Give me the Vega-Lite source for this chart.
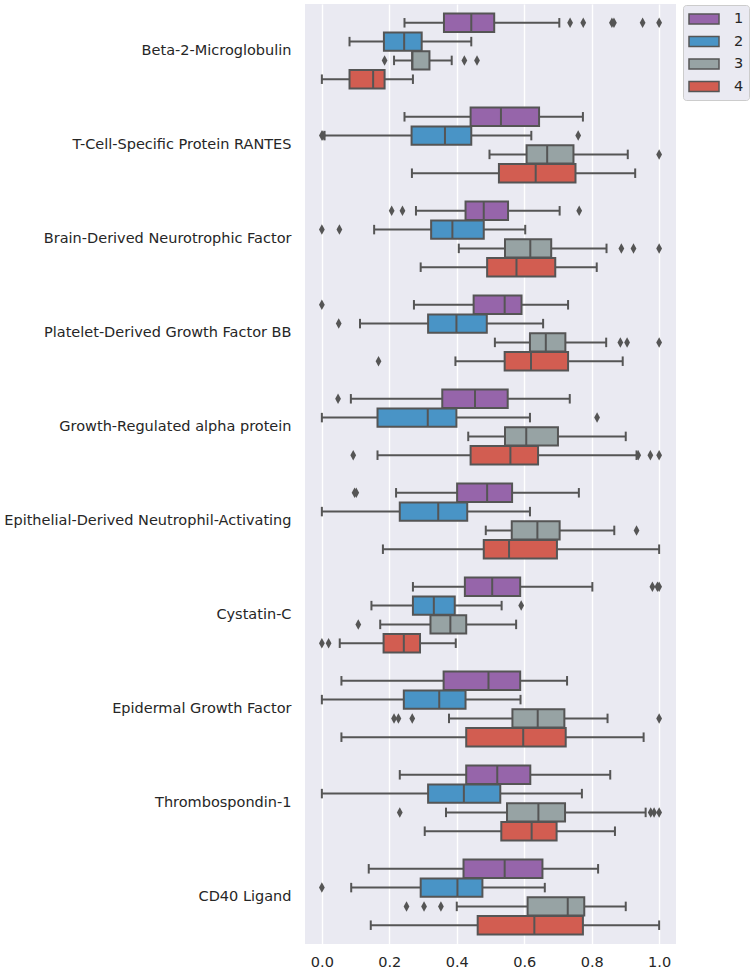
{
  "$schema": "https://vega.github.io/schema/vega-lite/v6.json",
  "width": 371,
  "height": 940,
  "autosize": "none",
  "padding": {"left": 305, "top": 4, "right": 74, "bottom": 28},
  "background": "white",
  "datasets": {
    "boxes": [
      {"protein": "Beta-2-Microglobulin", "group": "1", "lo": 0.245, "q1": 0.362, "med": 0.443, "q3": 0.511, "hi": 0.704},
      {"protein": "Beta-2-Microglobulin", "group": "2", "lo": 0.082, "q1": 0.184, "med": 0.244, "q3": 0.296, "hi": 0.443},
      {"protein": "Beta-2-Microglobulin", "group": "3", "lo": 0.214, "q1": 0.268, "med": 0.268, "q3": 0.319, "hi": 0.385},
      {"protein": "Beta-2-Microglobulin", "group": "4", "lo": 0.0, "q1": 0.082, "med": 0.152, "q3": 0.186, "hi": 0.27},
      {"protein": "T-Cell-Specific Protein RANTES", "group": "1", "lo": 0.245, "q1": 0.441, "med": 0.531, "q3": 0.644, "hi": 0.774},
      {"protein": "T-Cell-Specific Protein RANTES", "group": "2", "lo": 0.008, "q1": 0.266, "med": 0.365, "q3": 0.443, "hi": 0.621},
      {"protein": "T-Cell-Specific Protein RANTES", "group": "3", "lo": 0.497, "q1": 0.607, "med": 0.668, "q3": 0.746, "hi": 0.907},
      {"protein": "T-Cell-Specific Protein RANTES", "group": "4", "lo": 0.267, "q1": 0.525, "med": 0.634, "q3": 0.752, "hi": 0.929},
      {"protein": "Brain-Derived Neurotrophic Factor", "group": "1", "lo": 0.279, "q1": 0.426, "med": 0.48, "q3": 0.552, "hi": 0.705},
      {"protein": "Brain-Derived Neurotrophic Factor", "group": "2", "lo": 0.155, "q1": 0.324, "med": 0.387, "q3": 0.48, "hi": 0.603},
      {"protein": "Brain-Derived Neurotrophic Factor", "group": "3", "lo": 0.406, "q1": 0.543, "med": 0.618, "q3": 0.68, "hi": 0.844},
      {"protein": "Brain-Derived Neurotrophic Factor", "group": "4", "lo": 0.293, "q1": 0.49, "med": 0.577, "q3": 0.692, "hi": 0.815},
      {"protein": "Platelet-Derived Growth Factor BB", "group": "1", "lo": 0.273, "q1": 0.45, "med": 0.542, "q3": 0.592, "hi": 0.73},
      {"protein": "Platelet-Derived Growth Factor BB", "group": "2", "lo": 0.113, "q1": 0.315, "med": 0.399, "q3": 0.489, "hi": 0.656},
      {"protein": "Platelet-Derived Growth Factor BB", "group": "3", "lo": 0.513, "q1": 0.617, "med": 0.664, "q3": 0.722, "hi": 0.843},
      {"protein": "Platelet-Derived Growth Factor BB", "group": "4", "lo": 0.396, "q1": 0.542, "med": 0.62, "q3": 0.73, "hi": 0.892},
      {"protein": "Growth-Regulated alpha protein", "group": "1", "lo": 0.086, "q1": 0.357, "med": 0.454, "q3": 0.551, "hi": 0.735},
      {"protein": "Growth-Regulated alpha protein", "group": "2", "lo": 0.0, "q1": 0.165, "med": 0.314, "q3": 0.399, "hi": 0.617},
      {"protein": "Growth-Regulated alpha protein", "group": "3", "lo": 0.434, "q1": 0.543, "med": 0.606, "q3": 0.7, "hi": 0.901},
      {"protein": "Growth-Regulated alpha protein", "group": "4", "lo": 0.165, "q1": 0.441, "med": 0.559, "q3": 0.641, "hi": 0.933},
      {"protein": "Epithelial-Derived Neutrophil-Activating", "group": "1", "lo": 0.22, "q1": 0.401, "med": 0.49, "q3": 0.564, "hi": 0.762},
      {"protein": "Epithelial-Derived Neutrophil-Activating", "group": "2", "lo": 0.0, "q1": 0.231, "med": 0.345, "q3": 0.431, "hi": 0.617},
      {"protein": "Epithelial-Derived Neutrophil-Activating", "group": "3", "lo": 0.486, "q1": 0.563, "med": 0.639, "q3": 0.705, "hi": 0.867},
      {"protein": "Epithelial-Derived Neutrophil-Activating", "group": "4", "lo": 0.181, "q1": 0.48, "med": 0.555, "q3": 0.697, "hi": 1.0},
      {"protein": "Cystatin-C", "group": "1", "lo": 0.27, "q1": 0.424, "med": 0.505, "q3": 0.588, "hi": 0.802},
      {"protein": "Cystatin-C", "group": "2", "lo": 0.147, "q1": 0.27, "med": 0.332, "q3": 0.394, "hi": 0.533},
      {"protein": "Cystatin-C", "group": "3", "lo": 0.173, "q1": 0.322, "med": 0.381, "q3": 0.428, "hi": 0.576},
      {"protein": "Cystatin-C", "group": "4", "lo": 0.053, "q1": 0.183, "med": 0.243, "q3": 0.291, "hi": 0.397},
      {"protein": "Epidermal Growth Factor", "group": "1", "lo": 0.058, "q1": 0.361, "med": 0.494, "q3": 0.588, "hi": 0.727},
      {"protein": "Epidermal Growth Factor", "group": "2", "lo": 0.0, "q1": 0.243, "med": 0.348, "q3": 0.426, "hi": 0.589},
      {"protein": "Epidermal Growth Factor", "group": "3", "lo": 0.377, "q1": 0.565, "med": 0.64, "q3": 0.719, "hi": 0.847},
      {"protein": "Epidermal Growth Factor", "group": "4", "lo": 0.058, "q1": 0.428, "med": 0.597, "q3": 0.723, "hi": 0.954},
      {"protein": "Thrombospondin-1", "group": "1", "lo": 0.231, "q1": 0.428, "med": 0.52, "q3": 0.618, "hi": 0.855},
      {"protein": "Thrombospondin-1", "group": "2", "lo": 0.0, "q1": 0.315, "med": 0.421, "q3": 0.529, "hi": 0.771},
      {"protein": "Thrombospondin-1", "group": "3", "lo": 0.368, "q1": 0.549, "med": 0.642, "q3": 0.721, "hi": 0.96},
      {"protein": "Thrombospondin-1", "group": "4", "lo": 0.305, "q1": 0.532, "med": 0.622, "q3": 0.696, "hi": 0.869},
      {"protein": "CD40 Ligand", "group": "1", "lo": 0.139, "q1": 0.42, "med": 0.542, "q3": 0.654, "hi": 0.819},
      {"protein": "CD40 Ligand", "group": "2", "lo": 0.087, "q1": 0.293, "med": 0.402, "q3": 0.476, "hi": 0.661},
      {"protein": "CD40 Ligand", "group": "3", "lo": 0.4, "q1": 0.61, "med": 0.729, "q3": 0.778, "hi": 0.901},
      {"protein": "CD40 Ligand", "group": "4", "lo": 0.145, "q1": 0.462, "med": 0.63, "q3": 0.774, "hi": 1.0}
    ],
    "outliers": [
      {"protein": "Beta-2-Microglobulin", "group": "1", "v": 0.736},
      {"protein": "Beta-2-Microglobulin", "group": "1", "v": 0.775},
      {"protein": "Beta-2-Microglobulin", "group": "1", "v": 0.86},
      {"protein": "Beta-2-Microglobulin", "group": "1", "v": 0.866},
      {"protein": "Beta-2-Microglobulin", "group": "1", "v": 0.951},
      {"protein": "Beta-2-Microglobulin", "group": "1", "v": 1.0},
      {"protein": "Beta-2-Microglobulin", "group": "3", "v": 0.186},
      {"protein": "Beta-2-Microglobulin", "group": "3", "v": 0.4225},
      {"protein": "Beta-2-Microglobulin", "group": "3", "v": 0.46},
      {"protein": "T-Cell-Specific Protein RANTES", "group": "2", "v": 0.0},
      {"protein": "T-Cell-Specific Protein RANTES", "group": "2", "v": 0.003},
      {"protein": "T-Cell-Specific Protein RANTES", "group": "2", "v": 0.76},
      {"protein": "T-Cell-Specific Protein RANTES", "group": "3", "v": 1.0},
      {"protein": "Brain-Derived Neurotrophic Factor", "group": "1", "v": 0.207},
      {"protein": "Brain-Derived Neurotrophic Factor", "group": "1", "v": 0.239},
      {"protein": "Brain-Derived Neurotrophic Factor", "group": "1", "v": 0.763},
      {"protein": "Brain-Derived Neurotrophic Factor", "group": "2", "v": 0.0},
      {"protein": "Brain-Derived Neurotrophic Factor", "group": "2", "v": 0.052},
      {"protein": "Brain-Derived Neurotrophic Factor", "group": "3", "v": 0.888},
      {"protein": "Brain-Derived Neurotrophic Factor", "group": "3", "v": 0.924},
      {"protein": "Brain-Derived Neurotrophic Factor", "group": "3", "v": 1.0},
      {"protein": "Platelet-Derived Growth Factor BB", "group": "1", "v": 0.0},
      {"protein": "Platelet-Derived Growth Factor BB", "group": "2", "v": 0.05},
      {"protein": "Platelet-Derived Growth Factor BB", "group": "3", "v": 0.885},
      {"protein": "Platelet-Derived Growth Factor BB", "group": "3", "v": 0.905},
      {"protein": "Platelet-Derived Growth Factor BB", "group": "3", "v": 1.0},
      {"protein": "Platelet-Derived Growth Factor BB", "group": "4", "v": 0.168},
      {"protein": "Growth-Regulated alpha protein", "group": "1", "v": 0.048},
      {"protein": "Growth-Regulated alpha protein", "group": "2", "v": 0.816},
      {"protein": "Growth-Regulated alpha protein", "group": "4", "v": 0.093},
      {"protein": "Growth-Regulated alpha protein", "group": "4", "v": 0.938},
      {"protein": "Growth-Regulated alpha protein", "group": "4", "v": 0.974},
      {"protein": "Growth-Regulated alpha protein", "group": "4", "v": 1.0},
      {"protein": "Epithelial-Derived Neutrophil-Activating", "group": "1", "v": 0.097},
      {"protein": "Epithelial-Derived Neutrophil-Activating", "group": "1", "v": 0.102},
      {"protein": "Epithelial-Derived Neutrophil-Activating", "group": "3", "v": 0.933},
      {"protein": "Cystatin-C", "group": "1", "v": 0.98},
      {"protein": "Cystatin-C", "group": "1", "v": 0.995},
      {"protein": "Cystatin-C", "group": "1", "v": 1.0},
      {"protein": "Cystatin-C", "group": "2", "v": 0.591},
      {"protein": "Cystatin-C", "group": "3", "v": 0.108},
      {"protein": "Cystatin-C", "group": "4", "v": 0.0},
      {"protein": "Cystatin-C", "group": "4", "v": 0.02},
      {"protein": "Epidermal Growth Factor", "group": "3", "v": 0.214},
      {"protein": "Epidermal Growth Factor", "group": "3", "v": 0.227},
      {"protein": "Epidermal Growth Factor", "group": "3", "v": 0.268},
      {"protein": "Epidermal Growth Factor", "group": "3", "v": 1.0},
      {"protein": "Thrombospondin-1", "group": "3", "v": 0.231},
      {"protein": "Thrombospondin-1", "group": "3", "v": 0.975},
      {"protein": "Thrombospondin-1", "group": "3", "v": 0.985},
      {"protein": "Thrombospondin-1", "group": "3", "v": 1.0},
      {"protein": "CD40 Ligand", "group": "2", "v": 0.0},
      {"protein": "CD40 Ligand", "group": "3", "v": 0.251},
      {"protein": "CD40 Ligand", "group": "3", "v": 0.303},
      {"protein": "CD40 Ligand", "group": "3", "v": 0.353}
    ]
  },
  "encoding": {
    "y": {
      "field": "protein",
      "type": "nominal",
      "title": null,
      "sort": ["Beta-2-Microglobulin", "T-Cell-Specific Protein RANTES", "Brain-Derived Neurotrophic Factor", "Platelet-Derived Growth Factor BB", "Growth-Regulated alpha protein", "Epithelial-Derived Neutrophil-Activating", "Cystatin-C", "Epidermal Growth Factor", "Thrombospondin-1", "CD40 Ligand"],
      "scale": {"paddingInner": 0.2, "paddingOuter": 0.1}
    },
    "yOffset": {
      "field": "group",
      "type": "nominal",
      "sort": ["1", "2", "3", "4"],
      "scale": {"paddingInner": 0.02, "paddingOuter": 0.01}
    }
  },
  "layer": [
    {
      "data": {"name": "boxes"},
      "mark": {"type": "rule", "stroke": "#555555", "strokeWidth": 2},
      "encoding": {
        "x": {"field": "lo", "type": "quantitative", "title": null, "scale": {"domain": [-0.05, 1.05], "nice": false, "zero": false}, "axis": {"values": [0, 0.2, 0.4, 0.6, 0.8, 1.0], "format": ".1f"}},
        "x2": {"field": "hi"}
      }
    },
    {
      "data": {"name": "boxes"},
      "mark": {"type": "tick", "color": "#555555", "size": 9.5, "thickness": 2, "opacity": 1},
      "encoding": {
        "x": {"field": "lo", "type": "quantitative", "title": null}
      }
    },
    {
      "data": {"name": "boxes"},
      "mark": {"type": "tick", "color": "#555555", "size": 9.5, "thickness": 2, "opacity": 1},
      "encoding": {
        "x": {"field": "hi", "type": "quantitative", "title": null}
      }
    },
    {
      "data": {"name": "boxes"},
      "mark": {"type": "bar", "stroke": "#555555", "strokeWidth": 2, "opacity": 1},
      "encoding": {
        "x": {"field": "q1", "type": "quantitative", "title": null},
        "x2": {"field": "q3"},
        "color": {
          "field": "group",
          "type": "nominal",
          "scale": {"domain": ["1", "2", "3", "4"], "range": ["#9665aa", "#4994c6", "#97a3a4", "#d25d51"]},
          "legend": {
            "title": null,
            "orient": "none",
            "legendX": 378,
            "legendY": 1,
            "symbolType": "M-1,-0.625H2.75V0.625H-1Z",
            "symbolSize": 256,
            "symbolStrokeColor": "#555555",
            "symbolStrokeWidth": 1.5,
            "symbolOpacity": 1,
            "labelFontSize": 14.5,
            "labelColor": "#262626",
            "labelOffset": 28,
            "rowPadding": 5.5,
            "padding": 5,
            "fillColor": "#eaeaf2",
            "strokeColor": "#cccccc",
            "cornerRadius": 3
          }
        }
      }
    },
    {
      "data": {"name": "boxes"},
      "mark": {"type": "tick", "color": "#555555", "size": 18.4, "thickness": 2, "opacity": 1},
      "encoding": {
        "x": {"field": "med", "type": "quantitative", "title": null}
      }
    },
    {
      "data": {"name": "outliers"},
      "mark": {"type": "point", "shape": "M0,-1L0.55,0L0,1L-0.55,0Z", "filled": true, "size": 110, "color": "#555555", "opacity": 1, "strokeWidth": 0},
      "encoding": {
        "x": {"field": "v", "type": "quantitative", "title": null}
      }
    }
  ],
  "config": {
    "font": "DejaVu Sans",
    "view": {"fill": "#eaeaf2", "stroke": null},
    "axis": {"domain": false, "ticks": false, "labelColor": "#262626", "labelFontSize": 14.5, "title": null, "labelFlush": false},
    "axisX": {"grid": true, "gridColor": "#ffffff", "gridWidth": 1.4, "labelPadding": 11},
    "axisY": {"grid": false, "labelPadding": 14, "labelLimit": 400}
  }
}
